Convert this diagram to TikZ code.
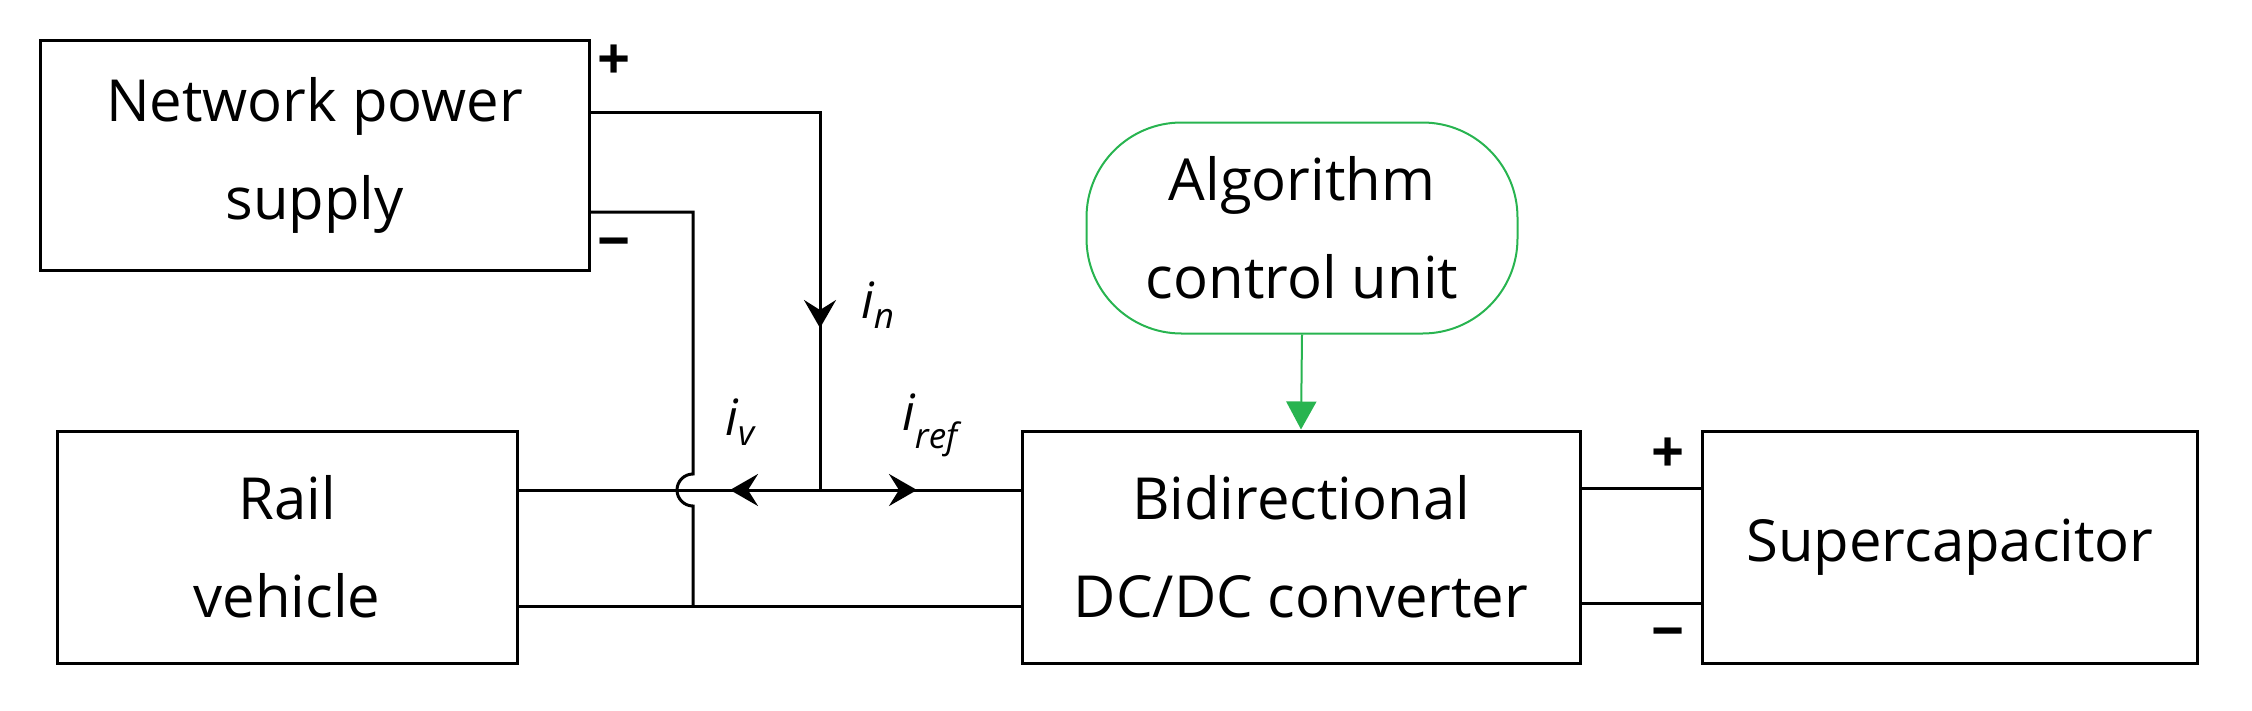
\documentclass[tikz,border=0pt]{standalone}
\usepackage{fontspec}
\setmainfont{Open Sans}
\usetikzlibrary{arrows.meta}
\begin{document}
\begin{tikzpicture}[x=1pt,y=-1pt,line width=3pt,
  box/.style={draw,line width=3pt,align=center,font=\fontsize{58}{98}\selectfont,inner sep=0pt},
  sgn/.style={font=\fontsize{58}{58}\selectfont\bfseries},
  lab/.style={font=\fontsize{50}{50}\selectfont\itshape},
  tip/.style={-{Stealth[length=28pt,width=32pt,inset=10pt]}}]
\useasboundingbox (0,0) rectangle (2252,710);
\definecolor{grn}{RGB}{40,180,80}
\node[box,minimum width=549pt,minimum height=230pt] (net) at (314.5,155) {Network power\\supply};
\node[box,minimum width=460pt,minimum height=232pt] (rail) at (287,547) {Rail\\vehicle};
\node[box,minimum width=558pt,minimum height=232pt] (conv) at (1301,547) {Bidirectional\\DC/DC converter};
\node[box,minimum width=495pt,minimum height=232pt] (sc) at (1950,547) {Supercapacitor};
\node[box,draw=grn,line width=2pt,rounded corners=95pt,minimum width=431pt,minimum height=211pt] (alg) at (1302,228) {Algorithm\\control unit};
\draw[grn,line width=2pt,-{Triangle[length=28pt,width=30pt]}] (alg.south) -- (conv.north);
% wires
\coordinate (j) at (820,490);
\draw (net.east |- 0,112) -- (820,112) -- (j);
\draw (rail.east |- 0,490) -- (conv.west |- 0,490);
\draw (rail.east |- 0,606) -- (conv.west |- 0,606);
\draw (net.east |- 0,212) -- (693,212) -- (693,474) arc[start angle=90,end angle=270,radius=16pt] -- (693,606);
\draw (conv.east |- 0,488) -- (sc.west |- 0,488);
\draw (conv.east |- 0,603) -- (sc.west |- 0,603);
% current arrows
\draw[tip] (820,290) -- (820,328);
\draw[tip] (780,490) -- (730,490);
\draw[tip] (870,490) -- (917,490);
\node[lab] (in) at (878,305) {i\textsubscript{n}};
\node[lab] (iv) at (740,422) {i\textsubscript{v}};
\node[lab] (ir) at (930,425) {i\textsubscript{ref}};
\node[sgn] (p1) at (614,62) {+};
\node[sgn] (m1) at (614,250) {\textminus};
\node[sgn] (p2) at (1668,455) {+};
\node[sgn] (m2) at (1668,640) {\textminus};
\end{tikzpicture}
\end{document}
